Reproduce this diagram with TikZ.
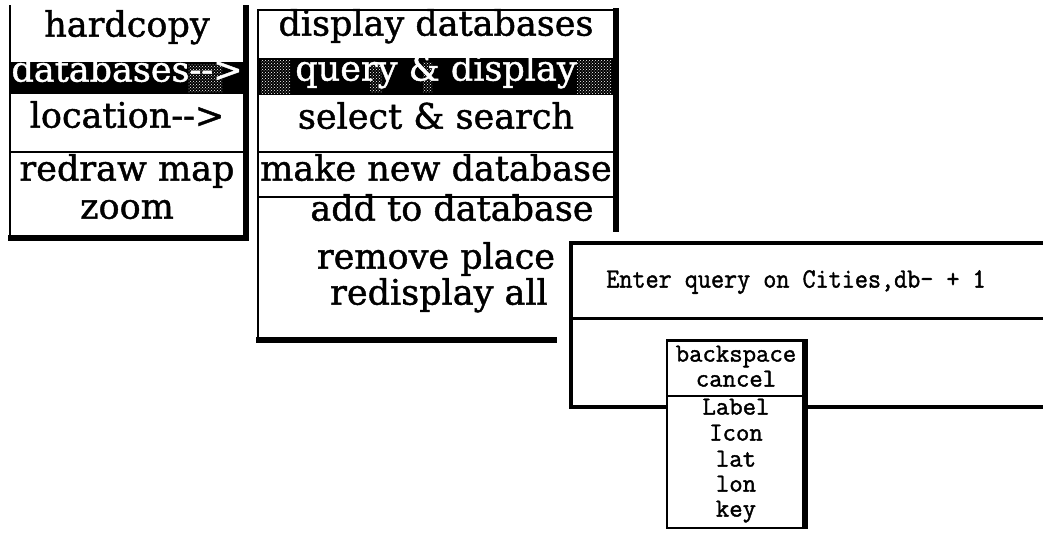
\documentclass[tikz,border=0pt]{standalone}
\usepackage{fontspec}
\setmainfont{DejaVu Serif}[FakeBold=1.2]
\newfontfamily\slabfont{Latin Modern Mono}[FakeBold=1.5]
\usetikzlibrary{patterns}
\begin{document}
\begin{tikzpicture}[x=1pt,y=-1pt,
  mtext/.style={font=\fontsize{35}{40}\selectfont, inner sep=0pt, anchor=mid},
  qtext/.style={font=\slabfont\fontsize{25.4}{28}\selectfont, inner sep=0pt, anchor=mid},
  stext/.style={font=\slabfont\fontsize{26}{28}\selectfont, inner sep=0pt, anchor=mid},
  edgeline/.style={line width=2pt},
  midline/.style={line width=3pt},
  heavyline/.style={line width=5.5pt},
  speckle/.style={pattern=crosshatch dots, pattern color=white}]
\useasboundingbox (0,0) rectangle (1043,533);
\fill[white] (0,0) rectangle (1043,533);
% ---- menu 1
\fill[black] (11,62) rectangle (243,94);
\fill[speckle] (188,64) rectangle (222,92);
\draw[edgeline] (10,5) -- (10,238);
\draw[edgeline] (10,152) -- (243,152);
\draw[heavyline] (246,5) -- (246,241);
\draw[heavyline] (8,238) -- (249,238);
\node[mtext] (m1a) at (127,34) {hardcopy};
\node[mtext, text=white] (m1b) at (127,79) {databases{-}{-}>};
\node[mtext] (m1c) at (127,125) {location{-}{-}>};
\node[mtext] (m1d) at (127,178) {redraw map};
\node[mtext] (m1e) at (127,216) {zoom};
% ---- menu 2
\fill[black] (259,58) rectangle (613,95);
\fill[speckle] (261,60) rectangle (290,93);
\fill[speckle] (370,62) rectangle (382,92);
\fill[speckle] (423,62) rectangle (432,92);
\fill[speckle] (577,60) rectangle (611,93);
\draw[edgeline] (258,10) -- (258,340);
\draw[edgeline] (257,10) -- (617,10);
\draw[edgeline] (258,152) -- (613,152);
\draw[edgeline] (258,197) -- (613,197);
\draw[heavyline] (616,8) -- (616,340);
\draw[heavyline] (256,340) -- (619,340);
\node[mtext] (m2a) at (436,33) {display databases};
\node[mtext, text=white] (m2b) at (436,78) {query \& display};
\node[mtext] (m2c) at (436,126) {select \& search};
\node[mtext] (m2d) at (436,178) {make new database};
\node[mtext] (m2e) at (452,218) {add to database};
\node[mtext] (m2f) at (436,266) {remove place};
\node[mtext] (m2g) at (439,302) {redisplay all};
% ---- query window
\fill[white] (557,232) rectangle (1043,420);
\draw[line width=4pt] (1043,243) -- (571,243) -- (571,407) -- (1043,407);
\draw[midline] (571,318) -- (1043,318);
\node[qtext] (q) at (796,285) {\scalebox{1}[1.1]{Enter query on Cities,db- + 1}};
% ---- small menu
\fill[white] (667,340) rectangle (805,528);
\draw[edgeline] (667,340) -- (667,528) -- (805,528);
\draw[midline] (666,340) -- (807,340);
\draw[heavyline] (805,339) -- (805,529);
\draw[edgeline] (667,396) -- (805,396);
\node[stext] (s1) at (736,359) {backspace};
\node[stext] (s2) at (736,384) {cancel};
\node[stext] (s3) at (736,412) {Label};
\node[stext] (s4) at (736,438) {Icon};
\node[stext] (s5) at (736,464) {lat};
\node[stext] (s6) at (736,489) {lon};
\node[stext] (s7) at (736,514) {key};
\end{tikzpicture}
\end{document}
